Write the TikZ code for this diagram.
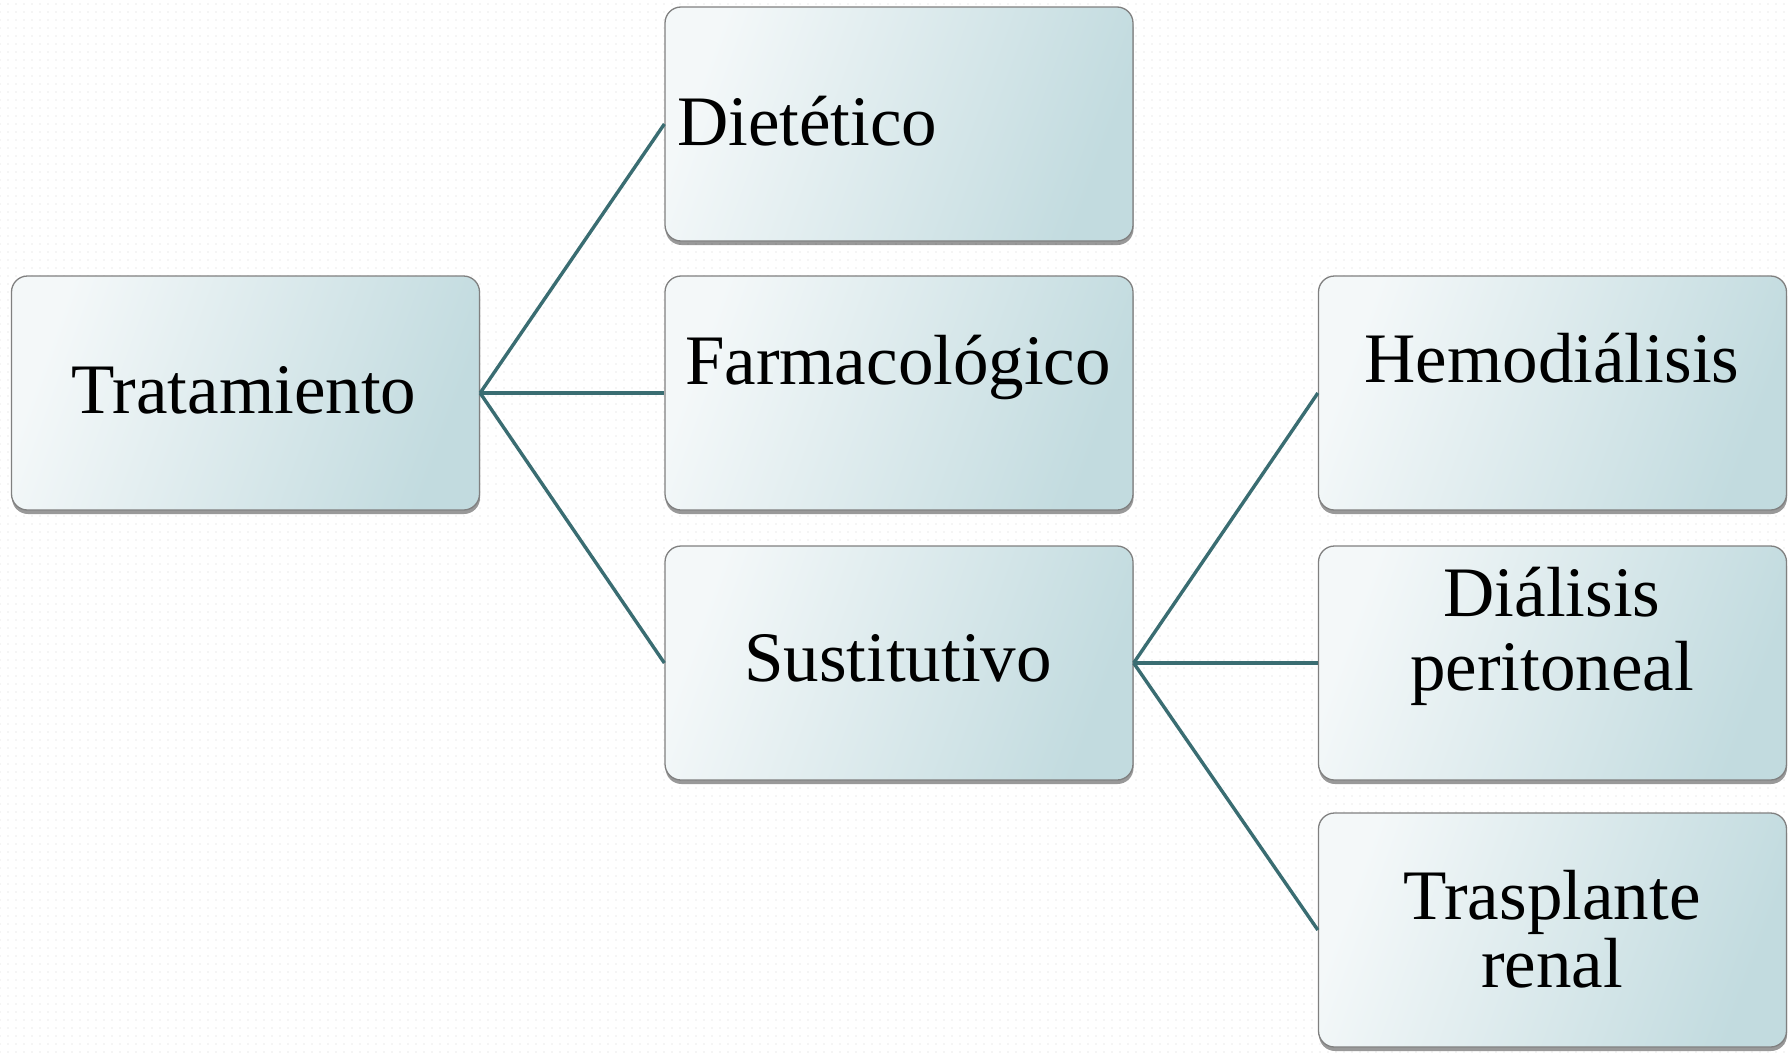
\documentclass[tikz,border=0pt]{standalone}
\usepackage{fontspec}
\setmainfont{Liberation Serif}
\usetikzlibrary{shadows,patterns.meta}
\definecolor{lightc}{HTML}{F4F8F9}
\definecolor{darkc}{HTML}{C2DBDF}
\definecolor{edgec}{HTML}{808080}
\definecolor{linec}{HTML}{3A6D72}
\begin{document}
\begin{tikzpicture}[x=1pt,y=-1pt,
  box/.style={draw=edgec, line width=1.3pt, rounded corners=16pt,
    minimum width=468pt, minimum height=234pt, inner sep=0pt,
    left color=lightc, right color=darkc, shading angle=70,
    drop shadow={shadow xshift=0.5pt, shadow yshift=-4pt, opacity=0.4, fill=black}},
  lbl/.style={font=\fontsize{71}{68}\selectfont, inner sep=0pt, align=center},
  conn/.style={draw=linec, line width=3.4pt}]
\useasboundingbox (0,0) rectangle (1790,1052);
\fill[white] (0,0) rectangle (1790,1052);
\fill[pattern={Dots[radius=0.9pt,distance=8pt]}, pattern color=black!8] (0,0) rectangle (1790,1052);
% boxes
\node[box] (trat) at (245.5,393) {};
\node[box] (diet) at (899,124) {};
\node[box] (farm) at (899,393) {};
\node[box] (sust) at (899,663) {};
\node[box] (hemo) at (1552.5,393) {};
\node[box] (dial) at (1552.5,663) {};
\node[box] (tras) at (1552.5,930) {};
% connectors
\draw[conn] (trat.east) -- (diet.west);
\draw[conn] (trat.east) -- (farm.west);
\draw[conn] (trat.east) -- (sust.west);
\draw[conn] (sust.east) -- (hemo.west);
\draw[conn] (sust.east) -- (dial.west);
\draw[conn] (sust.east) -- (tras.west);
% labels
\node[lbl, anchor=base] (tratT) at (244,413) {Tratamiento};
\node[lbl, anchor=base west] (dietT) at (677,145) {Dietético};
\node[lbl, anchor=base] (farmT) at (898,384) {Farmacológico};
\node[lbl, anchor=base] (sustT) at (898,681) {Sustitutivo};
\node[lbl, anchor=base] (hemoT) at (1552,382) {Hemodiálisis};
\node[lbl, anchor=north, font=\fontsize{71}{74}\selectfont] (dialT) at (1552,567) {Diálisis\\peritoneal};
\node[lbl, anchor=north] (trasT) at (1552,870) {Trasplante\\renal};
\end{tikzpicture}
\end{document}
